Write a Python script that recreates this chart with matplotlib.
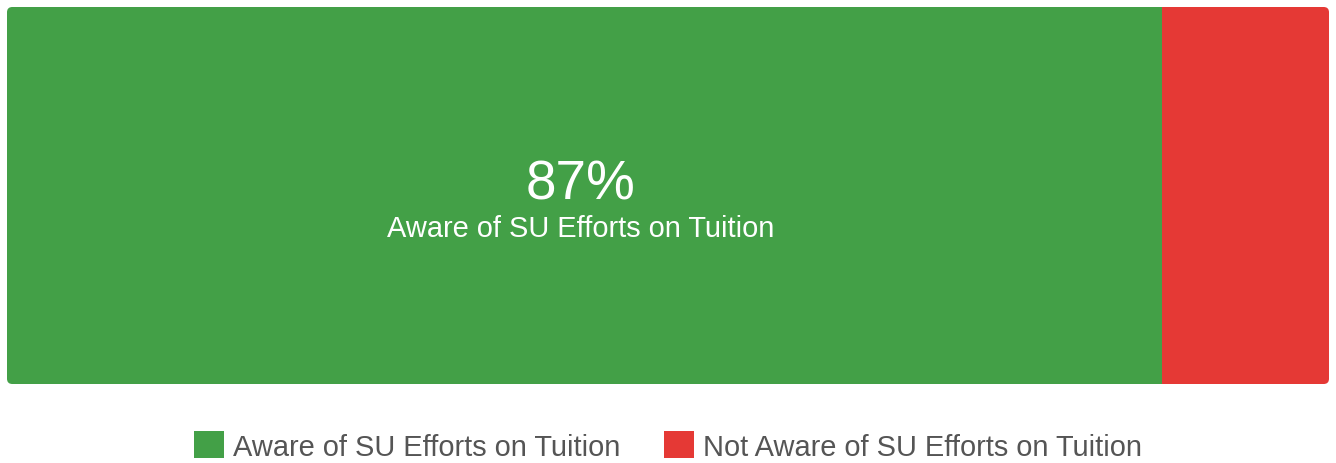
import matplotlib.pyplot as plt
from matplotlib.patches import Patch, FancyBboxPatch

# data
labels = ['Aware of SU Efforts on Tuition', 'Not Aware of SU Efforts on Tuition']
values = [87.4, 12.6]
colors = ['#43A047', '#E53935']

plt.rcParams['font.family'] = ['Liberation Sans', 'DejaVu Sans']

fig = plt.figure(figsize=(13.36, 4.64), dpi=100)
ax = fig.add_axes([7 / 1336, 79 / 464, 1322 / 1336, 377 / 464])

# rounded outline used to clip the stacked bar
clip = FancyBboxPatch((0, 0), 1, 1, boxstyle='round,pad=0,rounding_size=0.004',
                      transform=ax.transAxes, facecolor='none', edgecolor='none',
                      mutation_aspect=1322 / 377)
ax.add_patch(clip)

left = 0
for lab, val, col in zip(labels, values, colors):
    bars = ax.barh(0, val, left=left, height=1, color=col, edgecolor='none')
    for b in bars:
        b.set_clip_path(clip)
    left += val

ax.set_xlim(0, sum(values))
ax.set_ylim(-0.5, 0.5)
ax.axis('off')

# label inside the biggest segment
cx = values[0] / 2 - 0.3
ax.text(cx, -0.04, f'{round(values[0])}%', color='white', fontsize=39.5,
        ha='center', va='bottom')
ax.text(cx, -0.05, labels[0], color='white', fontsize=20.9,
        ha='center', va='top')

handles = [Patch(facecolor=c, edgecolor='none') for c in colors]
fig.legend(handles, labels, loc='center', bbox_to_anchor=(0.5, 17 / 464),
           ncol=2, frameon=False, fontsize=20.9, labelcolor='#555555',
           handlelength=1.03, handleheight=1.03, handletextpad=0.31,
           columnspacing=1.52)

fig.savefig('out.png', dpi=100)
